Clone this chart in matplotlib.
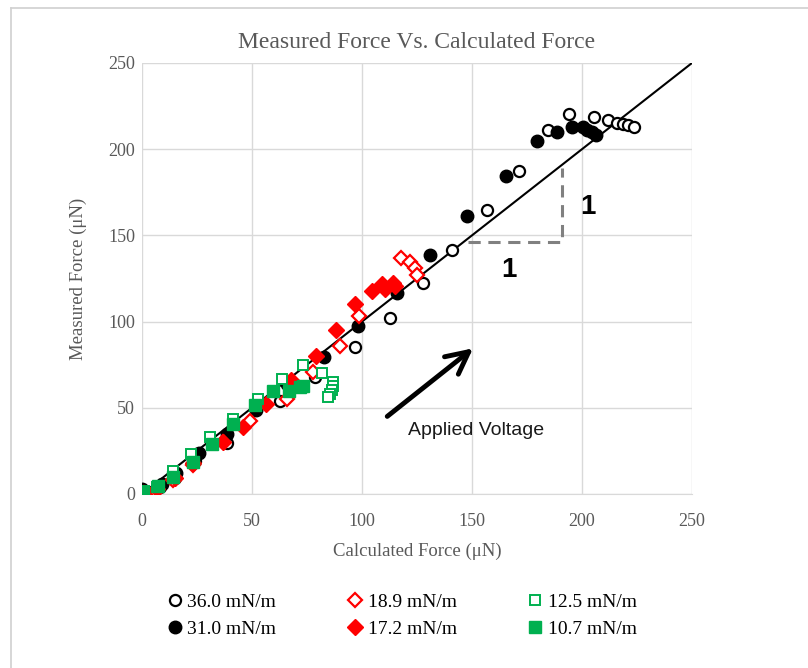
import numpy as np
import matplotlib.pyplot as plt
from matplotlib.lines import Line2D

plt.rcParams['font.family'] = ['Liberation Serif', 'DejaVu Serif']

# 36.0 mN/m (open black circles)
x36 = [1, 8, 15, 24, 38.5, 62.7, 78.6, 96.8, 112.7, 127.9, 140.8, 156.7, 171.4,
       184.4, 194.2, 205.6, 211.7, 215.8, 218.5, 221, 223.6]
y36 = [1, 4, 9, 19, 29.4, 54, 67.7, 85, 101.9, 122.2, 141.5, 164.7, 187.5,
       211.1, 220.4, 218.9, 217, 215.4, 214.6, 213.9, 212.6]

# 31.0 mN/m (filled black circles)
x31 = [0, 9, 15.5, 26, 38.6, 52, 66, 82.9, 98.3, 115.8, 130.9, 147.6, 165.5,
       179.7, 188.8, 195.6, 200.3, 202.1, 204.4, 206.4]
y31 = [3, 6, 12, 24, 35, 49, 64, 79.6, 97.6, 116.4, 138.6, 161.3, 184.5,
       204.6, 210.2, 213, 212.6, 211.1, 209.8, 208.2]

# 18.9 mN/m (open red diamonds)
x189 = [1, 7, 14, 23, 37, 49, 66, 77.9, 90, 98.6, 117.7, 121.8, 124.1, 125.1]
y189 = [0.5, 3, 8, 17, 30, 42.5, 54.9, 71, 85.8, 103, 136.7, 134.8, 130.9, 127]

# 17.2 mN/m (filled red diamonds)
x172 = [1, 7, 15, 23, 36.8, 46, 56.5, 67.7, 79, 88.2, 96.8, 104.4, 109.2, 110.5, 114, 115]
y172 = [0, 3, 9, 18, 30, 39, 52, 66, 80, 95.1, 110, 117.7, 121.6, 118.9, 122.2, 120.8]

# 12.5 mN/m (open green squares)
x125 = [1, 7, 14, 22.1, 30.9, 41.5, 52.9, 63.5, 73.3, 81.7, 86.7, 86.7, 86.2, 85.5, 84.7]
y125 = [2, 4, 13.5, 23.2, 32.9, 43.3, 54.9, 66.5, 74.8, 70.4, 65.2, 62.6, 60.3, 58, 56.5]

# 10.7 mN/m (filled green squares)
x107 = [0.6, 7.4, 14.2, 23, 31.7, 41.5, 51.4, 59.7, 67, 71.8, 73]
y107 = [1.3, 4.6, 10, 18.7, 29, 40.5, 51.6, 59.6, 60, 61.9, 62.6]

ticks = [0, 50, 100, 150, 200, 250]

red = '#ff0000'
green = '#00b050'
grey = '#595959'

fig = plt.figure(figsize=(8.08, 6.68), dpi=100)
ax = fig.add_axes([0.1757, 0.2605, 0.6807, 0.6452])

ax.plot([0, 250], [0, 250], color='black', lw=1.5, zorder=2)

ax.plot(x36, y36, 'o', ms=8, mfc='white', mec='black', mew=1.6, ls='none',
        label='36.0 mN/m', zorder=3)
ax.plot(x31, y31, 'o', ms=9, color='black', ls='none', label='31.0 mN/m', zorder=3)
ax.plot(x189, y189, 'D', ms=7, mfc='white', mec=red, mew=1.6, ls='none',
        label='18.9 mN/m', zorder=3)
ax.plot(x172, y172, 'D', ms=8, color=red, ls='none', label='17.2 mN/m', zorder=3)
ax.plot(x125, y125, 's', ms=7.5, mfc='white', mec=green, mew=1.4, ls='none',
        label='12.5 mN/m', zorder=3)
ax.plot(x107, y107, 's', ms=8, color=green, ls='none', label='10.7 mN/m', zorder=3)

# slope triangle
ax.plot([148, 191, 191], [146, 146, 189], color='#808080', lw=2.2, ls=(0, (4, 2.5)), zorder=2)
ax.text(167, 130, '1', fontsize=20, fontweight='bold', family='Liberation Sans',
        ha='center', va='center')
ax.text(202.5, 166.5, '1', fontsize=20, fontweight='bold', family='Liberation Sans',
        ha='center', va='center')

ax.annotate('', xy=(151.5, 85.5), xytext=(110.5, 44),
            arrowprops=dict(arrowstyle='->', lw=3.5, color='black', mutation_scale=40))
ax.text(152, 37, 'Applied Voltage', fontsize=14, family='Liberation Sans',
        ha='center', va='center', color='#1a1a1a')

ax.set_xlim(0, 250)
ax.set_ylim(0, 250)
ax.set_xticks(ticks)
ax.set_yticks(ticks)
ax.grid(True, color='#d9d9d9', lw=1)
ax.set_axisbelow(True)
for s in ['top', 'right', 'left']:
    ax.spines[s].set_visible(False)
ax.spines['bottom'].set_color('#d9d9d9')
ax.tick_params(length=0, labelsize=13, labelcolor=grey)
ax.tick_params(axis='x', pad=14)
ax.tick_params(axis='y', pad=5)

ax.set_title('Measured Force Vs. Calculated Force', fontsize=17, color=grey, pad=11)
ax.set_xlabel('Calculated Force (\u03bcN)', fontsize=13.5, color=grey, labelpad=9)
ax.set_ylabel('Measured Force (\u03bcN)', fontsize=13.5, color=grey, labelpad=15)

fig.legend(loc='center', bbox_to_anchor=(0.495, 0.0785), ncol=3, frameon=False,
           fontsize=14, handletextpad=0.05, columnspacing=3.45, labelspacing=0.45,
           handlelength=1.2)

# outer chart border (left and top edges)
fig.add_artist(Line2D([0.0136, 0.0136], [0, 0.988], color='#d0d0d0', lw=1.2,
                      transform=fig.transFigure))
fig.add_artist(Line2D([0.0136, 1], [0.988, 0.988], color='#d0d0d0', lw=1.2,
                      transform=fig.transFigure))

fig.savefig('out.png', dpi=100)
